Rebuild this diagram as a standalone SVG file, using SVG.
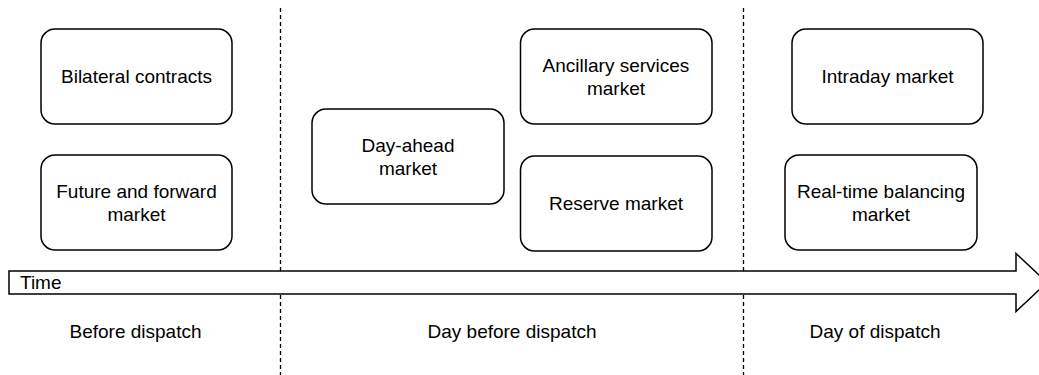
<svg xmlns="http://www.w3.org/2000/svg" width="1039" height="375" viewBox="0 0 1039 375">
  <style>
    .box { fill: #ffffff; stroke: #000000; stroke-width: 1.5; }
    .lbl { font-family: "Liberation Sans", Arial, Helvetica, sans-serif; font-size: 19px; fill: #000000; text-anchor: middle; }
    .divider { stroke: #000000; stroke-width: 1.3; stroke-dasharray: 4 3; fill: none; }
    .timeline { fill: #ffffff; stroke: #000000; stroke-width: 1.5; }
  </style>
  <rect width="1039" height="375" fill="#ffffff"/>

  <!-- phase dividers and timeline -->
  <g id="connectors">
    <line class="divider" x1="280.5" y1="8" x2="280.5" y2="375"/>
    <line class="divider" x1="743.5" y1="8" x2="743.5" y2="375"/>
    <polygon class="timeline" points="9,271 1016,271 1016,253.5 1047,282.5 1016,311.5 1016,294 9,294"/>
    <text class="lbl" x="20" y="289" style="text-anchor:start">Time</text>
  </g>

  <!-- before dispatch -->
  <g id="bilateral">
    <rect class="box" x="41" y="29" width="191" height="95" rx="14" ry="14"/>
    <text class="lbl" x="136.5" y="83">Bilateral contracts</text>
  </g>
  <g id="future-forward">
    <rect class="box" x="41" y="155" width="191" height="95" rx="14" ry="14"/>
    <text class="lbl" x="136.5" y="197.5">Future and forward</text>
    <text class="lbl" x="136.5" y="220.5">market</text>
  </g>

  <!-- day before dispatch -->
  <g id="day-ahead">
    <rect class="box" x="312" y="109" width="192" height="95" rx="14" ry="14"/>
    <text class="lbl" x="408" y="151.5">Day-ahead</text>
    <text class="lbl" x="408" y="174.5">market</text>
  </g>
  <g id="ancillary">
    <rect class="box" x="520.5" y="29" width="191.5" height="95" rx="14" ry="14"/>
    <text class="lbl" x="616" y="71.5">Ancillary services</text>
    <text class="lbl" x="616" y="94.5">market</text>
  </g>
  <g id="reserve">
    <rect class="box" x="520.5" y="156" width="191.5" height="95" rx="14" ry="14"/>
    <text class="lbl" x="616" y="210">Reserve market</text>
  </g>

  <!-- day of dispatch -->
  <g id="intraday">
    <rect class="box" x="792" y="29" width="191" height="95" rx="14" ry="14"/>
    <text class="lbl" x="887.5" y="83">Intraday market</text>
  </g>
  <g id="real-time">
    <rect class="box" x="785" y="155" width="192" height="95" rx="14" ry="14"/>
    <text class="lbl" x="881" y="197.5">Real-time balancing</text>
    <text class="lbl" x="881" y="220.5">market</text>
  </g>

  <!-- phase captions -->
  <g id="phases">
    <text class="lbl" x="135.5" y="338">Before dispatch</text>
    <text class="lbl" x="512" y="338">Day before dispatch</text>
    <text class="lbl" x="875" y="338">Day of dispatch</text>
  </g>
</svg>
